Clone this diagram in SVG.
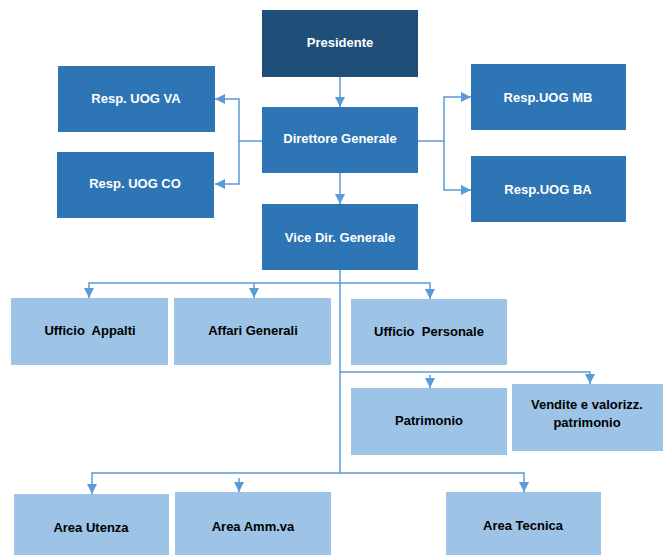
<svg xmlns="http://www.w3.org/2000/svg" width="663" height="555" viewBox="0 0 663 555">
<style>
.dark{fill:#1F4E79}
.mid{fill:#2E75B6}
.light{fill:#9DC3E6}
.tw{font-family:"Liberation Sans",Arial,sans-serif;font-weight:bold;font-size:13px;fill:#fff;text-anchor:middle;dominant-baseline:central;white-space:pre}
.tb{font-family:"Liberation Sans",Arial,sans-serif;font-weight:bold;font-size:13px;fill:#000;text-anchor:middle;dominant-baseline:central;white-space:pre}
.c{fill:none;stroke:#5B9BD5;stroke-width:1.5}
</style>
<defs>
<marker id="ah" viewBox="0 0 10 10" refX="10" refY="5" markerWidth="10" markerHeight="10" markerUnits="userSpaceOnUse" orient="auto">
<path d="M0,0 L10,5 L0,10 Z" fill="#5B9BD5"/>
</marker>
</defs>
<g id="connectors">
<path class="c" d="M340,77 V107" marker-end="url(#ah)"/>
<path class="c" d="M340,173 V204" marker-end="url(#ah)"/>
<path class="c" d="M262,141 H239 V99 H215" marker-end="url(#ah)"/>
<path class="c" d="M239,141 V184 H215" marker-end="url(#ah)"/>
<path class="c" d="M418,141 H444 V97 H471" marker-end="url(#ah)"/>
<path class="c" d="M444,141 V190 H471" marker-end="url(#ah)"/>
<path class="c" d="M340,270 V473"/>
<path class="c" d="M340,283 H89 V298" marker-end="url(#ah)"/>
<path class="c" d="M254,283 V298" marker-end="url(#ah)"/>
<path class="c" d="M340,283 H430 V299" marker-end="url(#ah)"/>
<path class="c" d="M340,372 H590 V384" marker-end="url(#ah)"/>
<path class="c" d="M430,375 V388" marker-end="url(#ah)"/>
<path class="c" d="M340,473 H92 V494" marker-end="url(#ah)"/>
<path class="c" d="M239,478 V492" marker-end="url(#ah)"/>
<path class="c" d="M340,473 H524 V492" marker-end="url(#ah)"/>
</g>
<g id="presidente"><rect class="dark" x="262" y="10" width="156" height="67"/><text class="tw" x="340" y="42">Presidente</text></g>
<g id="direttore"><rect class="mid" x="262" y="107" width="156" height="66"/><text class="tw" x="340" y="138">Direttore Generale</text></g>
<g id="uog-va"><rect class="mid" x="58" y="66" width="157" height="66"/><text class="tw" x="136" y="98">Resp. UOG VA</text></g>
<g id="uog-co"><rect class="mid" x="57" y="152" width="157" height="66"/><text class="tw" x="135" y="183">Resp. UOG CO</text></g>
<g id="uog-mb"><rect class="mid" x="471" y="64" width="155" height="66"/><text class="tw" x="548" y="97">Resp.UOG MB</text></g>
<g id="uog-ba"><rect class="mid" x="471" y="156" width="155" height="66"/><text class="tw" x="548" y="189">Resp.UOG BA</text></g>
<g id="vice"><rect class="mid" x="262" y="204" width="156" height="66"/><text class="tw" x="340" y="237">Vice Dir. Generale</text></g>
<g id="appalti"><rect class="light" x="11" y="298" width="157" height="67"/><text class="tb" x="90" y="330">Ufficio  Appalti</text></g>
<g id="affari"><rect class="light" x="174" y="298" width="157" height="67"/><text class="tb" x="253" y="330">Affari Generali</text></g>
<g id="personale"><rect class="light" x="351" y="299" width="156" height="66"/><text class="tb" x="429" y="331">Ufficio  Personale</text></g>
<g id="patrimonio"><rect class="light" x="351" y="388" width="156" height="67"/><text class="tb" x="429" y="420">Patrimonio</text></g>
<g id="vendite"><rect class="light" x="512" y="384" width="151" height="67"/><text class="tb" x="587" y="404">Vendite e valorizz.</text><text class="tb" x="587" y="422">patrimonio</text></g>
<g id="utenza"><rect class="light" x="14" y="494" width="155" height="61"/><text class="tb" x="91" y="527">Area Utenza</text></g>
<g id="amm"><rect class="light" x="175" y="492" width="156" height="63"/><text class="tb" x="253" y="526">Area Amm.va</text></g>
<g id="tecnica"><rect class="light" x="446" y="492" width="155" height="63"/><text class="tb" x="523" y="525">Area Tecnica</text></g>
</svg>
